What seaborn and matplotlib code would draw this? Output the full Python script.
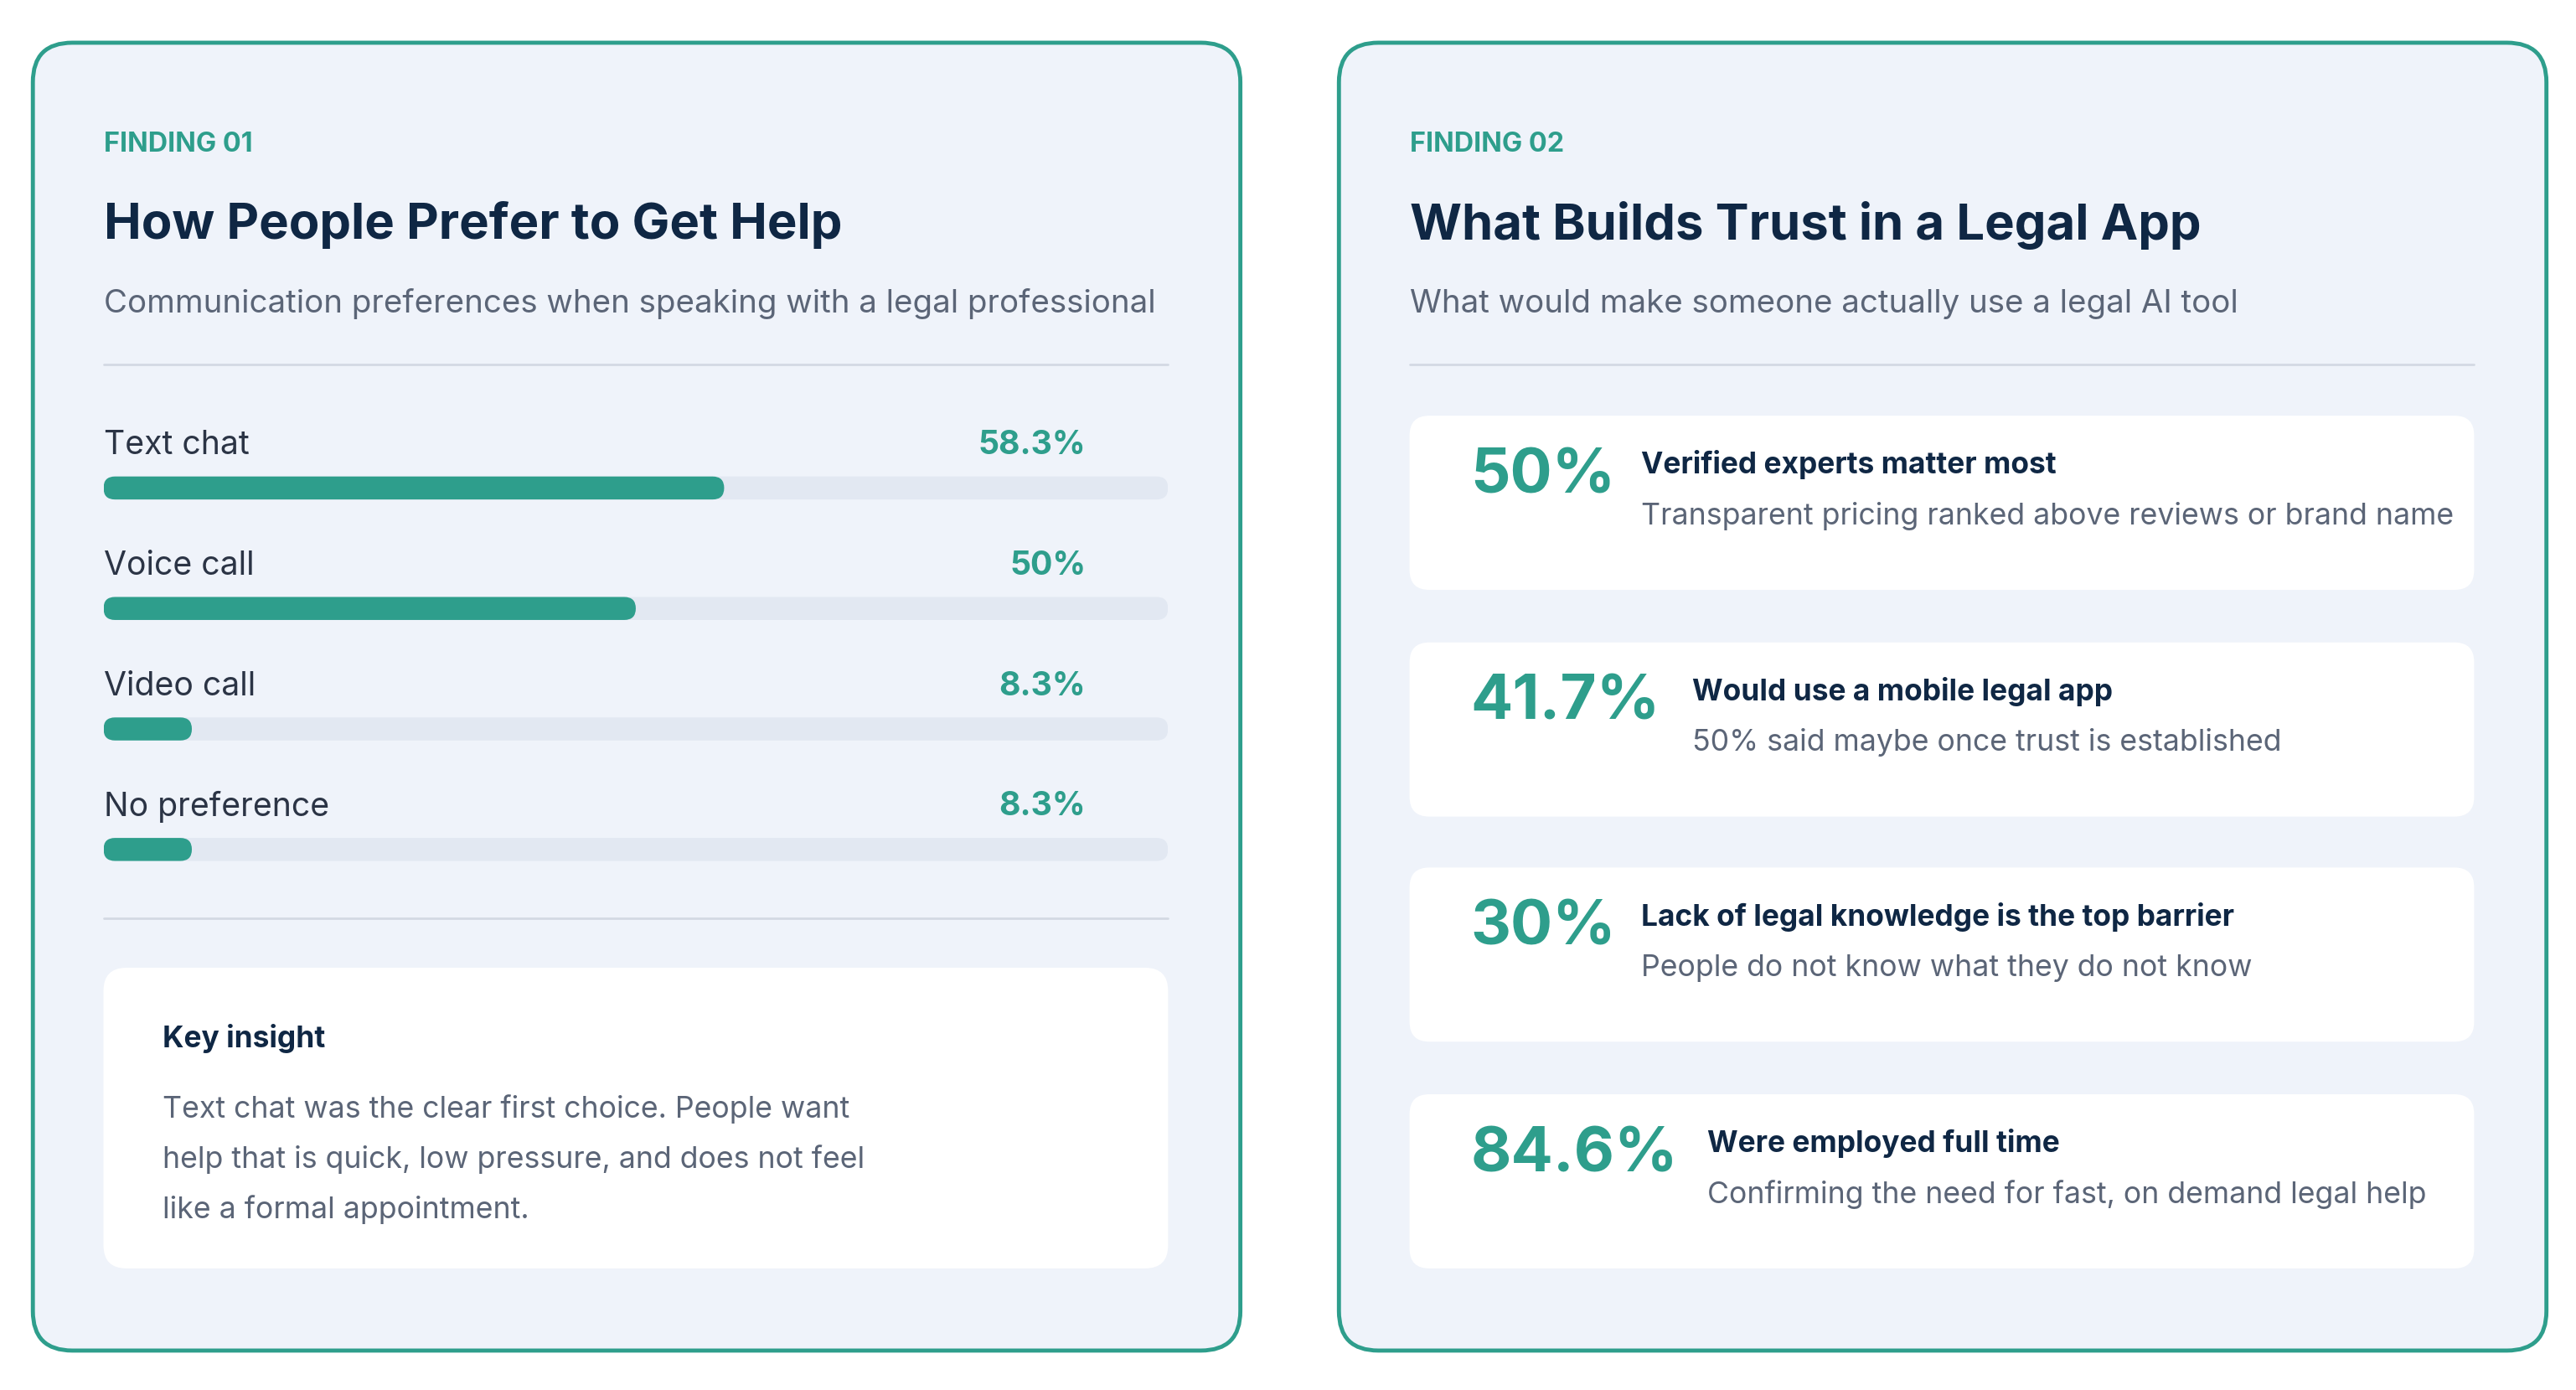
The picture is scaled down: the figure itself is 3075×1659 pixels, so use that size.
import matplotlib
matplotlib.use("Agg")
import matplotlib.pyplot as plt
import seaborn as sns
import pandas as pd
from matplotlib.patches import FancyBboxPatch

# data
pref_labels = ["Text chat", "Voice call", "Video call", "No preference"]
pref_values = [58.3, 50, 8.3, 8.3]
pref_text = ["58.3%", "50%", "8.3%", "8.3%"]

trust_stats = ["50%", "41.7%", "30%", "84.6%"]
trust_heads = ["Verified experts matter most", "Would use a mobile legal app",
               "Lack of legal knowledge is the top barrier", "Were employed full time"]
trust_subs = ["Transparent pricing ranked above reviews or brand name",
              "50% said maybe once trust is established",
              "People do not know what they do not know",
              "Confirming the need for fast, on demand legal help"]

TEAL = "#2e9e8c"
NAVY = "#0f2744"
GRAY = "#5b6577"
CARD = "#eff3fa"
TRACK = "#e2e8f2"
LINE = "#d3d9e3"

sns.set_theme(style="white")
plt.rcParams['font.family'] = ['Inter', 'DejaVu Sans']

W, H = 1568, 846
fig = plt.figure(figsize=(30.75, 16.59), dpi=100)
ax = fig.add_axes([0, 0, 1, 1])
ax.set_xlim(0, W)
ax.set_ylim(H, 0)
ax.axis("off")
k = 1.412  # display px -> pt


def rbox(a, x, y, w, h, r, fc, ec="none", lw=0, z=1):
    a.add_patch(FancyBboxPatch((x + r, y + r), w - 2 * r, h - 2 * r,
                               boxstyle=f"round,pad={r}", fc=fc, ec=ec, lw=lw, zorder=z))


for cx, title, sub, tag in [(20, "How People Prefer to Get Help",
                             "Communication preferences when speaking with a legal professional", "FINDING 01"),
                            (815, "What Builds Trust in a Legal App",
                             "What would make someone actually use a legal AI tool", "FINDING 02")]:
    rbox(ax, cx, 26, 735, 796, 24, CARD, TEAL, 3.5)
    tx = cx + 43
    ax.text(tx, 88, tag, fontsize=16.5 * k, color=TEAL, weight="bold", va="center")
    ax.text(tx, 137, title, fontsize=30.5 * k, color=NAVY, weight="bold", va="center")
    ax.text(tx, 185, sub, fontsize=19.6 * k, color=GRAY, va="center")
    ax.plot([tx, tx + 648], [222, 222], color=LINE, lw=2)

ax.plot([63, 711], [559, 559], color=LINE, lw=2)

# key insight box
rbox(ax, 63, 589, 648, 183, 14, "white")
ax.text(99, 632, "Key insight", fontsize=18 * k, color=NAVY, weight="bold", va="center")
for i, line in enumerate(["Text chat was the clear first choice. People want",
                          "help that is quick, low pressure, and does not feel",
                          "like a formal appointment."]):
    ax.text(99, 675 + 30.5 * i, line, fontsize=18.2 * k, color=GRAY, va="center")

# bar chart in its own axes over the track area
step = 73.33
y0, y1 = 297 - step / 2, 517 + step / 2
bax = fig.add_axes([63 / W, 1 - y1 / H, 648 / W, (y1 - y0) / H])
df = pd.DataFrame({"label": pref_labels, "value": pref_values})
sns.barplot(data=df, x=[100] * 4, y="label", color=TRACK, width=14 / step, ax=bax, saturation=1)
sns.barplot(data=df, x="value", y="label", color=TEAL, width=14 / step, ax=bax, saturation=1)
bax.set_xlim(0, 100)
bax.set_ylim(3.5, -0.5)
bax.axis("off")
aspect = (1 / step) / (100 / 648)
for p in list(bax.patches):
    x, y, w, h = p.get_x(), p.get_y(), p.get_width(), p.get_height()
    fc = p.get_facecolor()
    p.remove()
    r = h / 2 / aspect
    bax.add_patch(FancyBboxPatch((x + r, y + h / 2), max(w - 2 * r, 0), 0,
                                 boxstyle=f"round,pad={r}", mutation_aspect=aspect,
                                 fc=fc, ec="none"))
for i, (lab, val) in enumerate(zip(pref_labels, pref_text)):
    bax.text(0, i - 26 / step, lab, fontsize=20 * k, color="#2b3445", va="center")
    bax.text(92.3, i - 26 / step, val, fontsize=20 * k, color=TEAL, weight="bold", va="center", ha="right")

# trust cards
card_tops = [253, 391, 528, 666]
head_x = [999, 1030, 999, 1039]
for top, st, hd, sb, hx in zip(card_tops, trust_stats, trust_heads, trust_subs, head_x):
    rbox(ax, 858, top, 648, 106, 12, "white")
    ax.text(895, top + 37, st, fontsize=38 * k, color=TEAL, weight="bold", va="center")
    ax.text(hx, top + 30, hd, fontsize=18 * k, color=NAVY, weight="bold", va="center")
    ax.text(hx, top + 61, sb, fontsize=18.2 * k, color=GRAY, va="center")

fig.savefig("out.png", dpi=100, facecolor="white")
